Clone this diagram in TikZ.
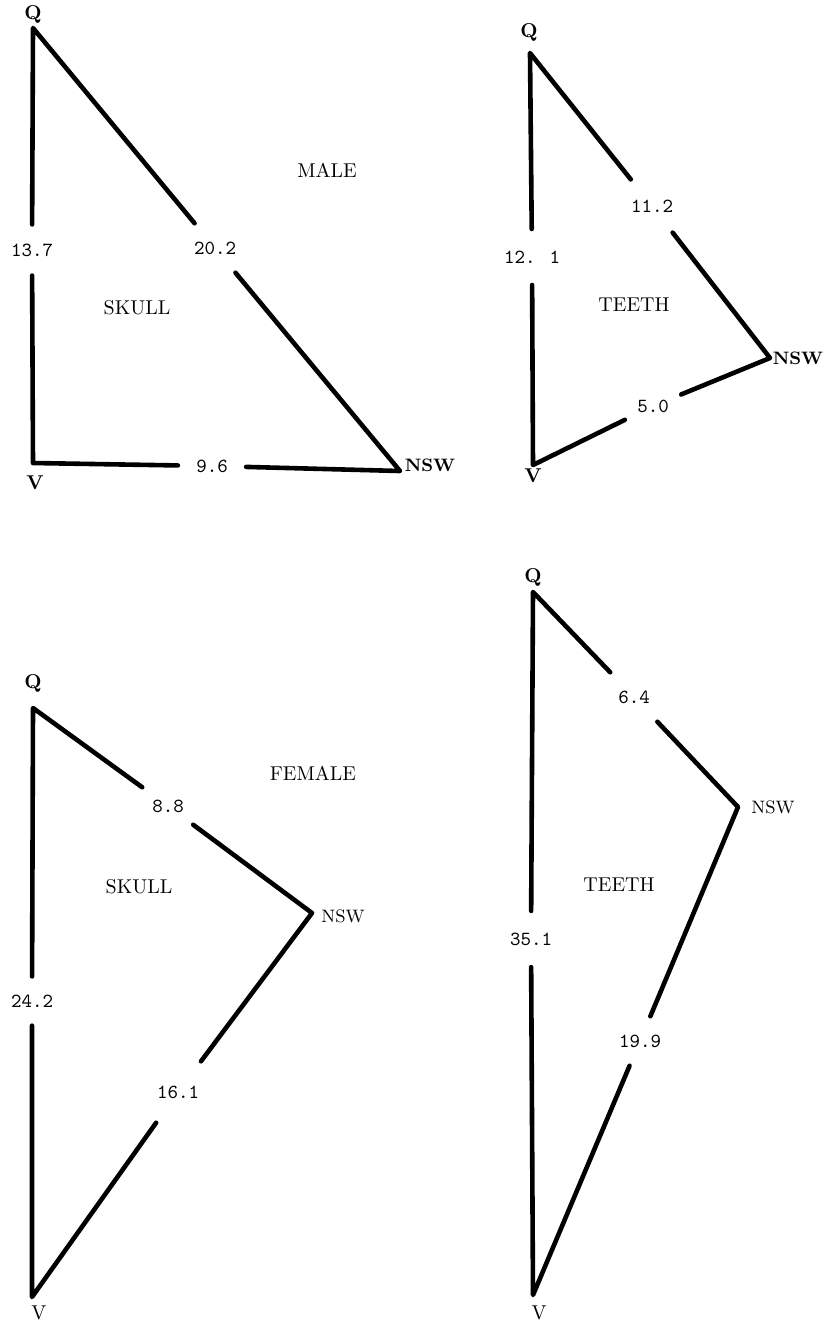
\documentclass[tikz,border=0pt]{standalone}
\usepackage{tikz}
\usetikzlibrary{positioning}
\tikzset{
  side/.style={line width=2.3pt, line join=round, line cap=round},
  num/.style={font=\ttfamily, inner sep=9pt},
  vtx/.style={font=\bfseries, inner sep=1pt},
  vtxr/.style={font=\normalfont, inner sep=1pt},
  word/.style={font=\rmfamily, inner sep=1pt}
}
% #1 Q, #2 label Q-NSW, #3 NSW, #4 label NSW-V, #5 V, #6 label V-Q
\newcommand{\gaptri}[6]{
  \draw[side] (#6) -- (#1) -- (#2) -- (#3) -- (#4) -- (#5) -- (#6);
}
\begin{document}
\begin{tikzpicture}[x=0.5pt,y=-0.5pt]
\useasboundingbox (0,0) rectangle (829,1324);
% male, skull
\coordinate (q1) at (33,28);
\coordinate (n1) at (400,471);
\coordinate (v1) at (33,463);
\node[num, inner sep=9.4pt] (qv1) at (32,250) {13.7};
\node[num] (qn1) at (215,248) {20.2};
\node[num] (nv1) at (212,466) {9.6};
\gaptri{q1}{qn1}{n1}{nv1}{v1}{qv1}
\node[vtx] (lq1) at (33,14) {Q};
\node[vtx] (lv1) at (35,483) {V};
\node[vtx, font=\small\bfseries] (ln1) at (430,465) {NSW};
\node[word] (male) at (327,170) {MALE};
\node[word] (skull1) at (137,308) {SKULL};
% male, teeth
\coordinate (q2) at (530,53);
\coordinate (n2) at (770,358);
\coordinate (v2) at (533,465);
\node[num, inner sep=10.7pt] (qv2) at (532,257) {12. 1};
\node[num, inner sep=10pt] (qn2) at (652,206) {11.2};
\node[num, inner sep=6pt] (nv2) at (653,406) {5.0};
\gaptri{q2}{qn2}{n2}{nv2}{v2}{qv2}
\node[vtx] (lq2) at (529,32) {Q};
\node[vtx] (lv2) at (533,476) {V};
\node[vtx, font=\small\bfseries] (ln2) at (798,358) {NSW};
\node[word] (teeth2) at (634,305) {TEETH};
% female, skull
\coordinate (q3) at (33,708);
\coordinate (n3) at (312,913);
\coordinate (v3) at (32,1297);
\node[num] (qv3) at (32,1001) {24.2};
\node[num, inner sep=6pt] (qn3) at (168,806) {8.8};
\node[num, inner sep=12pt] (nv3) at (178,1092) {16.1};
\gaptri{q3}{qn3}{n3}{nv3}{v3}{qv3}
\node[vtx] (lq3) at (33,683) {Q};
\node[vtxr] (lv3) at (39,1313) {V};
\node[vtxr, font=\small] (ln3) at (343,916) {NSW};
\node[word] (female) at (313,773) {FEMALE};
\node[word] (skull3) at (139,887) {SKULL};
% female, teeth
\coordinate (q4) at (533,592);
\coordinate (n4) at (738,807);
\coordinate (v4) at (533,1295);
\node[num, inner sep=10.7pt] (qv4) at (531,939) {35.1};
\node[num] (qn4) at (634,697) {6.4};
\node[num] (nv4) at (640,1041) {19.9};
\gaptri{q4}{qn4}{n4}{nv4}{v4}{qv4}
\node[vtx] (lq4) at (533,577) {Q};
\node[vtxr] (lv4) at (539,1313) {V};
\node[vtxr, font=\small] (ln4) at (773,807) {NSW};
\node[word] (teeth4) at (619,885) {TEETH};
\end{tikzpicture}
\end{document}
